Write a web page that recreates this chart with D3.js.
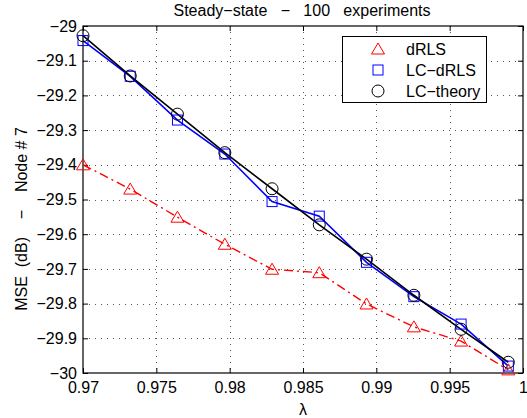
<!DOCTYPE html>
<html>
<head>
<meta charset="utf-8">
<script src="https://cdn.jsdelivr.net/npm/d3@7"></script>
<style>
  body { margin: 0; background: #fff; }
  svg { display: block; }
  text { font-family: "Liberation Sans", Arial, Helvetica, sans-serif; font-size: 16px; fill: #000; }
</style>
</head>
<body>
<svg id="chart" width="527" height="418"></svg>
<script>
// lambda values (forgetting factor)
var lambdas = [0.97, 0.97322, 0.97644, 0.97967, 0.98289, 0.98611, 0.98933, 0.99256, 0.99578, 0.999];

var dRLS = [-29.40, -29.47, -29.551, -29.629, -29.701, -29.711, -29.801, -29.867, -29.908, -29.991];
var lcDRLS = [-29.042, -29.145, -29.271, -29.369, -29.506, -29.548, -29.681, -29.780, -29.859, -29.980];
var lcTheory = [-29.028, -29.144, -29.254, -29.365, -29.469, -29.573, -29.672, -29.776, -29.874, -29.969];

var xTicks = [0.97, 0.975, 0.98, 0.985, 0.99, 0.995, 1];
var yTicks = [-29, -29.1, -29.2, -29.3, -29.4, -29.5, -29.6, -29.7, -29.8, -29.9, -30];

var seriesNames = ['dRLS', 'LC\u2212dRLS', 'LC\u2212theory'];

var svg = d3.select('#chart');

var plotL = 83, plotR = 523, plotT = 26, plotB = 373;

var x = d3.scaleLinear().domain([0.97, 1]).range([plotL, plotR]);
var y = d3.scaleLinear().domain([-30, -29]).range([plotB, plotT]);

var fmtY = function(d) { return String(d).replace('-', '\u2212'); };
var fmtX = function(d) { return String(d); };

// grid
var grid = svg.append('g').attr('stroke', '#555').attr('stroke-width', 1).attr('stroke-dasharray', '1,5');
grid.selectAll('line.gx')
  .data(xTicks.slice(1, -1))
  .enter().append('line')
  .attr('x1', function(d) { return Math.round(x(d)) + 0.5; })
  .attr('x2', function(d) { return Math.round(x(d)) + 0.5; })
  .attr('y1', plotT).attr('y2', plotB);
grid.selectAll('line.gy')
  .data(yTicks.slice(1, -1))
  .enter().append('line')
  .attr('y1', function(d) { return Math.round(y(d)) + 0.5; })
  .attr('y2', function(d) { return Math.round(y(d)) + 0.5; })
  .attr('x1', plotL).attr('x2', plotR);

// axes (ticks inward, on all sides)
var axB = svg.append('g').attr('transform', 'translate(0,' + plotB + ')')
  .call(d3.axisBottom(x).tickValues(xTicks).tickFormat(fmtX).tickSizeInner(-5).tickSizeOuter(0).tickPadding(9));
var axT = svg.append('g').attr('transform', 'translate(0,' + plotT + ')')
  .call(d3.axisTop(x).tickValues(xTicks).tickFormat('').tickSizeInner(-5).tickSizeOuter(0));
var axL = svg.append('g').attr('transform', 'translate(' + plotL + ',0)')
  .call(d3.axisLeft(y).tickValues(yTicks).tickFormat(fmtY).tickSizeInner(-5).tickSizeOuter(0).tickPadding(6));
var axR = svg.append('g').attr('transform', 'translate(' + plotR + ',0)')
  .call(d3.axisRight(y).tickValues(yTicks).tickFormat('').tickSizeInner(-5).tickSizeOuter(0));

[axB, axT, axL, axR].forEach(function(a) {
  a.select('.domain').remove();
  a.selectAll('text').attr('font-size', null).attr('font-family', null);
  a.selectAll('line').attr('stroke', '#000');
});

svg.append('rect')
  .attr('x', plotL).attr('y', plotT)
  .attr('width', plotR - plotL).attr('height', plotB - plotT)
  .attr('fill', 'none').attr('stroke', '#000').attr('stroke-width', 1.2);

// series
var line = function(vals) {
  return d3.line()
    .x(function(d, i) { return x(lambdas[i]); })
    .y(function(d) { return y(d); })(vals);
};

svg.append('path').attr('d', line(dRLS))
  .attr('fill', 'none').attr('stroke', '#ff0000').attr('stroke-width', 1.4)
  .attr('stroke-dasharray', '9,4,2,4');
svg.append('path').attr('d', line(lcDRLS))
  .attr('fill', 'none').attr('stroke', '#0000ff').attr('stroke-width', 1.6);
svg.append('path').attr('d', line(lcTheory))
  .attr('fill', 'none').attr('stroke', '#000').attr('stroke-width', 1.6);

function markerTri(g, cx, cy) {
  g.append('path').attr('d', 'M0,-6L6.5,5L-6.5,5Z')
    .attr('transform', 'translate(' + cx + ',' + cy + ')')
    .attr('fill', 'none').attr('stroke', '#ff0000').attr('stroke-width', 1);
}
function markerSq(g, cx, cy) {
  g.append('rect').attr('x', cx - 5).attr('y', cy - 5).attr('width', 10).attr('height', 10)
    .attr('fill', 'none').attr('stroke', '#0000ff').attr('stroke-width', 1);
}
function markerCirc(g, cx, cy) {
  g.append('circle').attr('cx', cx).attr('cy', cy).attr('r', 6)
    .attr('fill', 'none').attr('stroke', '#000').attr('stroke-width', 1);
}

var marks = svg.append('g');
dRLS.forEach(function(v, i) { markerTri(marks, x(lambdas[i]), y(v)); });
lcDRLS.forEach(function(v, i) { markerSq(marks, x(lambdas[i]), y(v)); });
lcTheory.forEach(function(v, i) { markerCirc(marks, x(lambdas[i]), y(v)); });

// legend
var lg = svg.append('g');
lg.append('rect').attr('x', 342.5).attr('y', 36.5).attr('width', 144).attr('height', 66)
  .attr('fill', '#fff').attr('stroke', '#000').attr('stroke-width', 1);
var drawers = [markerTri, markerSq, markerCirc];
seriesNames.forEach(function(name, i) {
  var cy = 49 + i * 21;
  drawers[i](lg, 378, cy);
  lg.append('text').attr('x', 406).attr('y', cy + 6).attr('font-size', '16.5px').text(name);
});

// titles
svg.append('text').attr('x', 302).attr('y', 16).attr('text-anchor', 'middle')
  .attr('font-size', '17px')
  .attr('xml:space', 'preserve')
  .text('Steady\u2212state   \u2212   100   experiments');
svg.append('text').attr('x', 303).attr('y', 415).attr('text-anchor', 'middle')
  .attr('font-size', '17px')
  .text('\u03bb');
svg.append('text')
  .attr('transform', 'translate(27,219) rotate(-90)')
  .attr('text-anchor', 'middle')
  .attr('font-size', '17px')
  .attr('xml:space', 'preserve')
  .text('MSE  (dB)    \u2212    Node # 7');
</script>
</body>
</html>
